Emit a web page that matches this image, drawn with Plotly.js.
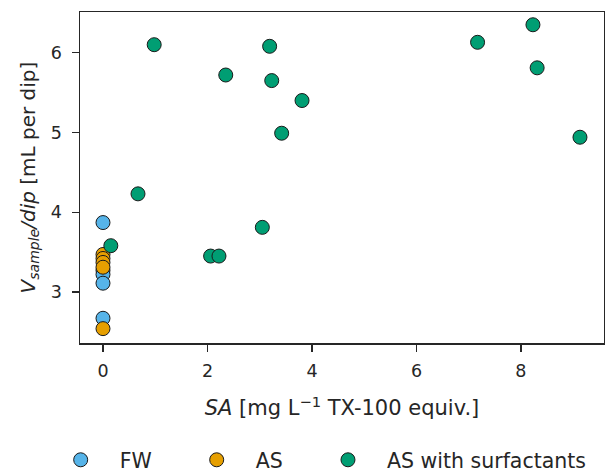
<!DOCTYPE html>
<html><head><meta charset="utf-8">
<script src="https://cdn.plot.ly/plotly-3.0.1.min.js"></script>
<style>body{margin:0;}#c{width:605px;height:472px;}</style>
</head><body><div id="c"></div>
<script>
const fwX = [0, 0, 0, 0, 0];
const fwY = [3.87, 3.27, 3.22, 3.11, 2.67];
const asX = [0, 0, 0, 0, 0];
const asY = [3.47, 3.42, 3.37, 3.31, 2.54];
const surfX = [0.98, 3.19, 2.35, 3.23, 3.81, 3.42, 7.17, 8.23, 8.31, 9.13, 0.67, 0.15, 3.05, 2.06, 2.22];
const surfY = [6.10, 6.08, 5.72, 5.65, 5.40, 4.99, 6.13, 6.35, 5.81, 4.94, 4.23, 3.58, 3.81, 3.45, 3.45];
const names = ["FW", "AS", "AS with surfactants"];
const colors = ["#56B4E9", "#E69F00", "#009E73"];
const legendIds = ["legend", "legend2", "legend3"];

function tr(x, y, i) {
  return {x: x, y: y, name: names[i], type: 'scatter', mode: 'markers', legend: legendIds[i],
    marker: {size: 14, color: colors[i], line: {color: '#1a1a1a', width: 1}}};
}
const data = [tr(fwX, fwY, 0), tr(asX, asY, 1), tr(surfX, surfY, 2)];
const font = {family: 'DejaVu Sans', size: 17, color: '#262626'};
function leg(x) {
  return {orientation: 'h', xref: 'container', yref: 'container', x: x, xanchor: 'left', y: 0.0255, yanchor: 'middle',
    font: {family: 'DejaVu Sans', size: 20.5, color: '#262626'}, itemwidth: 68, bgcolor: 'rgba(0,0,0,0)'};
}
const layout = {
  width: 605, height: 472,
  margin: {l: 80, r: 1, t: 12, b: 129},
  paper_bgcolor: 'white', plot_bgcolor: 'white',
  font: font,
  showlegend: true,
  legend: leg(0.0689), legend2: leg(0.2937), legend3: leg(0.5107),
  xaxis: {
    range: [-0.44, 9.59], tickvals: [0, 2, 4, 6, 8], ticks: 'outside', ticklen: 7, tickwidth: 1.2, tickcolor: '#262626',
    ticklabelstandoff: 4,
    showgrid: false, zeroline: false, showline: true, linecolor: '#262626', linewidth: 1.5, mirror: true,
    title: {text: '<i>SA</i> [mg L<sup>−1</sup> TX-100 equiv.]', font: {family: 'DejaVu Sans', size: 21, color: '#262626'}, standoff: 21},
    tickfont: {size: 17.5}
  },
  yaxis: {
    range: [2.36, 6.51], tickvals: [3, 4, 5, 6], ticks: 'outside', ticklen: 7, tickwidth: 1.2, tickcolor: '#262626',
    ticklabelstandoff: 6,
    showgrid: false, zeroline: false, showline: true, linecolor: '#262626', linewidth: 1.5, mirror: true,
    title: {text: '<i>V<sub>sample</sub>/dip</i> [mL per dip]', font: {family: 'DejaVu Sans', size: 20, color: '#262626'}, standoff: 10},
    tickfont: {size: 17.5}
  }
};
Plotly.newPlot('c', data, layout, {displayModeBar: false, staticPlot: true});
</script></body></html>
